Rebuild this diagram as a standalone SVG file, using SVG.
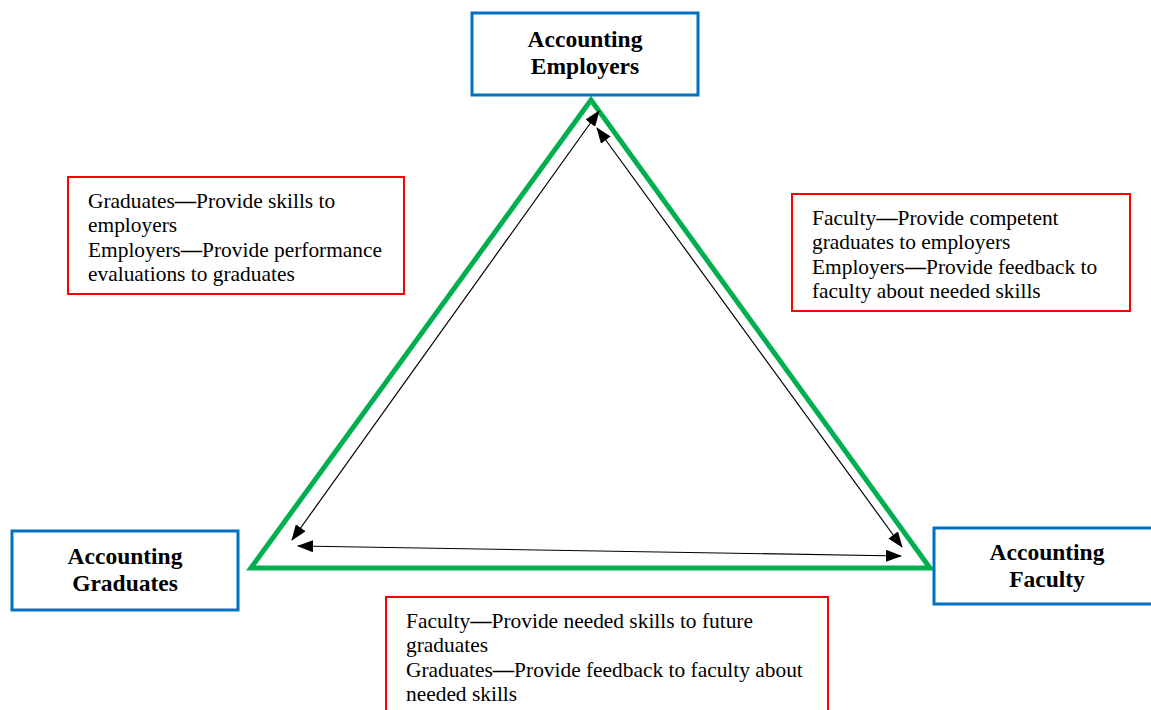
<svg xmlns="http://www.w3.org/2000/svg" width="1151" height="710" viewBox="0 0 1151 710">
<defs>
<marker id="ah" markerUnits="userSpaceOnUse" markerWidth="16" markerHeight="12" refX="15" refY="6" orient="auto-start-reverse">
<path d="M0,0 L16,6 L0,12 Z" fill="#000"/>
</marker>
<style>
.node{fill:#fff;stroke:#0070C0;stroke-width:3}
.note{fill:#fff;stroke:#FF0000;stroke-width:2}
.title{font-family:"Liberation Serif",serif;font-weight:bold;font-size:23.5px;fill:#000;text-anchor:middle}
.body{font-family:"Liberation Serif",serif;font-size:21.4px;fill:#000}
.dash{font-weight:bold}
.conn{stroke:#000;stroke-width:1.2;fill:none;marker-start:url(#ah);marker-end:url(#ah)}
</style>
</defs>
<rect width="1151" height="710" fill="#fff"/>
<polygon id="triangle" points="591,100 251,568 930,568" fill="none" stroke="#00B050" stroke-width="5"/>
<g id="connectors">
<line class="conn" x1="292" y1="540" x2="599" y2="111"/>
<line class="conn" x1="597" y1="128" x2="902" y2="547"/>
<line class="conn" x1="298" y1="546" x2="901" y2="556"/>
</g>
<g id="employers">
<rect class="node" x="472" y="13" width="226" height="82"/>
<text class="title" x="585" y="47">Accounting</text>
<text class="title" x="585" y="74">Employers</text>
</g>
<g id="graduates">
<rect class="node" x="12" y="531" width="226" height="79"/>
<text class="title" x="125" y="564">Accounting</text>
<text class="title" x="125" y="591">Graduates</text>
</g>
<g id="faculty">
<rect class="node" x="934" y="528" width="220" height="76"/>
<text class="title" x="1047" y="560">Accounting</text>
<text class="title" x="1047" y="587">Faculty</text>
</g>
<g id="note-left">
<rect class="note" x="68" y="177" width="336" height="117"/>
<text class="body" x="88" y="208">Graduates<tspan class="dash">—</tspan>Provide skills to</text>
<text class="body" x="88" y="232">employers</text>
<text class="body" x="88" y="257">Employers<tspan class="dash">—</tspan>Provide performance</text>
<text class="body" x="88" y="281">evaluations to graduates</text>
</g>
<g id="note-right">
<rect class="note" x="792" y="194" width="338" height="117"/>
<text class="body" x="812" y="225">Faculty<tspan class="dash">—</tspan>Provide competent</text>
<text class="body" x="812" y="249">graduates to employers</text>
<text class="body" x="812" y="274">Employers<tspan class="dash">—</tspan>Provide feedback to</text>
<text class="body" x="812" y="298">faculty about needed skills</text>
</g>
<g id="note-bottom">
<rect class="note" x="386" y="597" width="442" height="120"/>
<text class="body" x="406" y="628">Faculty<tspan class="dash">—</tspan>Provide needed skills to future</text>
<text class="body" x="406" y="652">graduates</text>
<text class="body" x="406" y="677">Graduates<tspan class="dash">—</tspan>Provide feedback to faculty about</text>
<text class="body" x="406" y="701">needed skills</text>
</g>
</svg>
